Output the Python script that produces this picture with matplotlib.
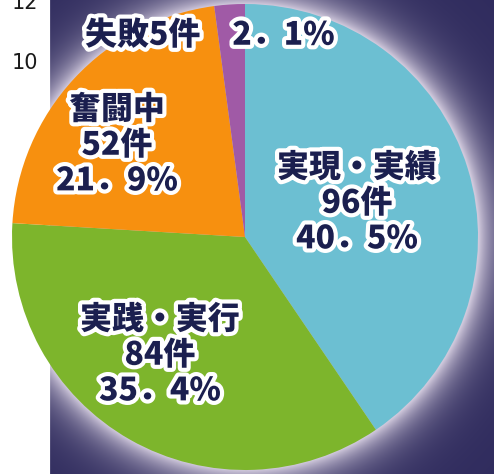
import numpy as np
import matplotlib.pyplot as plt
import matplotlib.patheffects as pe

plt.rcParams['font.family'] = ['Noto Sans CJK JP', 'DejaVu Sans']

# data
labels = ['実現・実績', '実践・実行', '奮闘中', '失敗']
counts = [96, 84, 52, 5]
percents = ['40．5%', '35．4%', '21．9%', '2．1%']
colors = ['#6cbfd2', '#7db52c', '#f7900f', '#a05aa6']

W, H = 494, 474
fig = plt.figure(figsize=(W / 100, H / 100), dpi=100)
fig.patch.set_facecolor('white')

# background in pixel coordinates
bg = fig.add_axes([0, 0, 1, 1])
bg.set_xlim(0, W)
bg.set_ylim(H, 0)
bg.axis('off')

cx, cy, R = 245, 237, 233
yy, xx = np.mgrid[0:H, 0:W]
dist = np.hypot(xx + 0.5 - cx, yy + 0.5 - cy)
glow = np.clip(np.exp(-(dist - R) / 20.0), 0, 1) * 0.9
navy = np.array([0x30, 0x2c, 0x5e]) / 255
light = np.array([0xe2, 0xda, 0xea]) / 255
img = navy[None, None, :] * (1 - glow[..., None]) + light[None, None, :] * glow[..., None]
img[:, :50, :] = 1.0
bg.imshow(img, extent=(0, W, H, 0), interpolation='bilinear')

# left axis fragment
bg.text(25, 3, '12', ha='center', va='center', fontsize=15, color='#1a1a1a',
        family='DejaVu Sans')
bg.text(25, 63, '10', ha='center', va='center', fontsize=15, color='#1a1a1a',
        family='DejaVu Sans')

# pie
ax = fig.add_axes([(cx - R) / W, (H - cy - R) / H, 2 * R / W, 2 * R / H])
ax.pie(counts, colors=colors, startangle=90, counterclock=False,
       wedgeprops=dict(linewidth=0))
ax.set_xlim(-1, 1)
ax.set_ylim(-1, 1)
ax.axis('off')

stroke = [pe.withStroke(linewidth=6, foreground='white')]
tcol = '#1b1f4f'

def label(x, y, s):
    ax.text(x, y, s, transform=bg.transData, ha='center', va='center',
            fontsize=23, fontweight='heavy', color=tcol, linespacing=1.08,
            path_effects=stroke)

label(357, 203, f'{labels[0]}\n{counts[0]}件\n{percents[0]}')
label(160, 355, f'{labels[1]}\n{counts[1]}件\n{percents[1]}')
label(117, 145, f'{labels[2]}\n{counts[2]}件\n{percents[2]}')
label(210, 35, f'{labels[3]}{counts[3]}件　{percents[3]}')

fig.savefig('out.png', dpi=100)
